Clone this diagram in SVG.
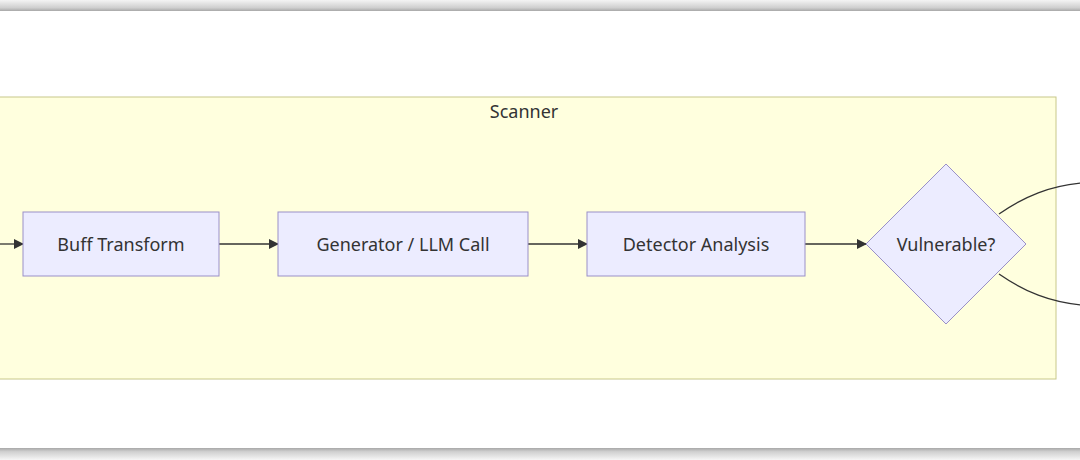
<svg xmlns="http://www.w3.org/2000/svg" width="1080" height="460" viewBox="0 0 1080 460">
<defs>
<linearGradient id="topBand" x1="0" y1="0" x2="0" y2="1">
<stop offset="0" stop-color="#f4f4f4"/>
<stop offset="0.7" stop-color="#cfcfcf"/>
<stop offset="1" stop-color="#a8a8a8"/>
</linearGradient>
<linearGradient id="botBand" x1="0" y1="0" x2="0" y2="1">
<stop offset="0" stop-color="#a8a8a8"/>
<stop offset="0.3" stop-color="#cfcfcf"/>
<stop offset="1" stop-color="#f6f6f6"/>
</linearGradient>
<marker id="arrow" viewBox="0 0 10 10" refX="9" refY="5" markerWidth="10" markerHeight="10" orient="auto" markerUnits="userSpaceOnUse">
<path d="M0,0 L10,5 L0,10 z" fill="#333"/>
</marker>
</defs>
<style>
.node rect, .node polygon { fill: #ececff; stroke: #9a90c8; stroke-width: 1; }
.label { font-family: "Noto Sans", "Open Sans", sans-serif; font-size: 18px; fill: #333; text-anchor: middle; dominant-baseline: central; }
.edge { fill: none; stroke: #333; stroke-width: 1.3; }
</style>
<rect x="0" y="0" width="1080" height="460" fill="#ffffff"/>
<rect x="0" y="0" width="1080" height="11" fill="url(#topBand)"/>
<rect x="0" y="448" width="1080" height="12" fill="url(#botBand)"/>
<g id="cluster-scanner">
<rect x="-2" y="97" width="1058" height="282" fill="#ffffde" stroke="#c8c88a" stroke-width="1"/>
<text class="label" x="524" y="111">Scanner</text>
</g>
<g id="connectors">
<path class="edge" d="M0,244 L23,244" marker-end="url(#arrow)"/>
<path class="edge" d="M219,244 L278,244" marker-end="url(#arrow)"/>
<path class="edge" d="M528,244 L587,244" marker-end="url(#arrow)"/>
<path class="edge" d="M805,244 L866,244" marker-end="url(#arrow)"/>
<path class="edge" d="M999,214 C1025,196 1050,186 1082,183"/>
<path class="edge" d="M999,274 C1025,292 1050,302 1082,305"/>
</g>
<g id="node-buff" class="node">
<rect x="23" y="212" width="196" height="64"/>
<text class="label" x="121" y="244">Buff Transform</text>
</g>
<g id="node-generator" class="node">
<rect x="278" y="212" width="250" height="64"/>
<text class="label" x="403" y="244">Generator / LLM Call</text>
</g>
<g id="node-detector" class="node">
<rect x="587" y="212" width="218" height="64"/>
<text class="label" x="696" y="244">Detector Analysis</text>
</g>
<g id="node-vulnerable" class="node">
<polygon points="946,164 1026,244 946,324 866,244"/>
<text class="label" x="946" y="244">Vulnerable?</text>
</g>
</svg>
